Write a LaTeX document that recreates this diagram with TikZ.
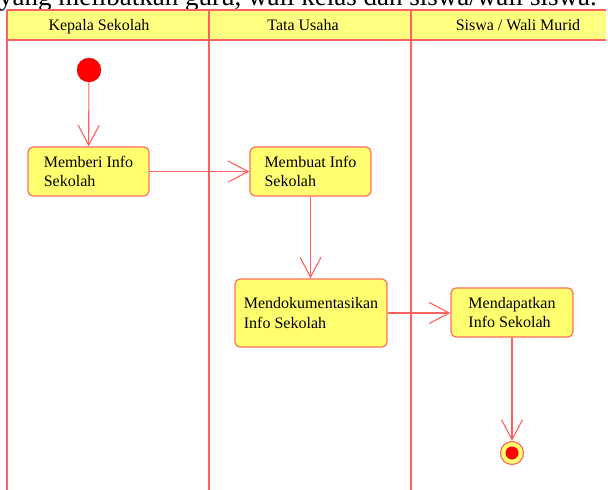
\documentclass[tikz,border=0pt]{standalone}
\usepackage{fontspec}
\setmainfont{Liberation Serif}
\usetikzlibrary{arrows.meta}
\definecolor{laneline}{RGB}{255,96,96}
\definecolor{hdrfill}{RGB}{255,255,128}
\definecolor{boxfill}{RGB}{255,255,112}
\definecolor{boxline}{RGB}{255,110,90}
\definecolor{dotred}{RGB}{255,0,0}
\begin{document}
\begin{tikzpicture}[x=1pt,y=-1pt,
  lane/.style={draw=laneline,line width=1.8pt},
  act/.style={draw=boxline,fill=boxfill,line width=1.2pt,rounded corners=5pt,align=left,
    font=\fontsize{16}{19.5}\selectfont,inner sep=0pt},
  flow/.style={draw=laneline,line width=1.1pt,-{Straight Barb[length=20pt,width=21pt,line width=1.1pt]}},
  hdr/.style={font=\fontsize{16}{18}\selectfont,inner sep=0pt,anchor=base}]
\useasboundingbox (0,0) rectangle (608,490);
\begin{scope}
\clip (0,0) rectangle (608,490);
\node[anchor=base west,inner sep=0pt,font=\fontsize{27}{30}\selectfont] (caption) at (-1,5) {yang melibatkan guru, wali kelas dan siswa/wali siswa.};
\end{scope}
% swimlanes
\fill[hdrfill] (7,10) rectangle (606,40);
\draw[lane] (7,10) -- (606,10);
\draw[lane] (7,40) -- (606,40);
\draw[lane] (7,10) -- (7,490);
\draw[lane] (209,10) -- (209,490);
\draw[lane] (411,10) -- (411,490);
\node[hdr] (h1) at (99,30.7) {Kepala Sekolah};
\node[hdr] (h2) at (303,30.7) {Tata Usaha};
\node[hdr] (h3) at (518,30.7) {Siswa / Wali Murid};
% start / end
\node[circle,fill=dotred,draw=dotred!80!black,line width=0.3pt,minimum size=24pt,inner sep=0pt] (start) at (89,70) {};
\node[circle,fill=boxfill,draw=boxline,line width=1.2pt,minimum size=23pt,inner sep=0pt] (end) at (512,453) {};
\fill[dotred] (end.center) circle (6.5pt);
% activities
\node[act,minimum width=121pt,minimum height=49pt] (a1) at (88.5,171.5) {Memberi Info\\Sekolah};
\node[act,minimum width=121pt,minimum height=49pt] (a2) at (310.5,171.5) {Membuat Info\\Sekolah};
\node[act,minimum width=152pt,minimum height=68pt] (a3) at (311,313) {Mendokumentasikan\\Info Sekolah};
\node[act,minimum width=122pt,minimum height=49pt] (a4) at (512,312.5) {Mendapatkan\\Info Sekolah};
% flows
\draw[flow] (start) -- (a1);
\draw[flow] (a1) -- (a2);
\draw[flow] (a2.south) -- (a3.north -| a2.south);
\draw[flow] (a3.east) -- (a3.east -| a4.west);
\draw[flow] (a4) -- (end);
\end{tikzpicture}
\end{document}
